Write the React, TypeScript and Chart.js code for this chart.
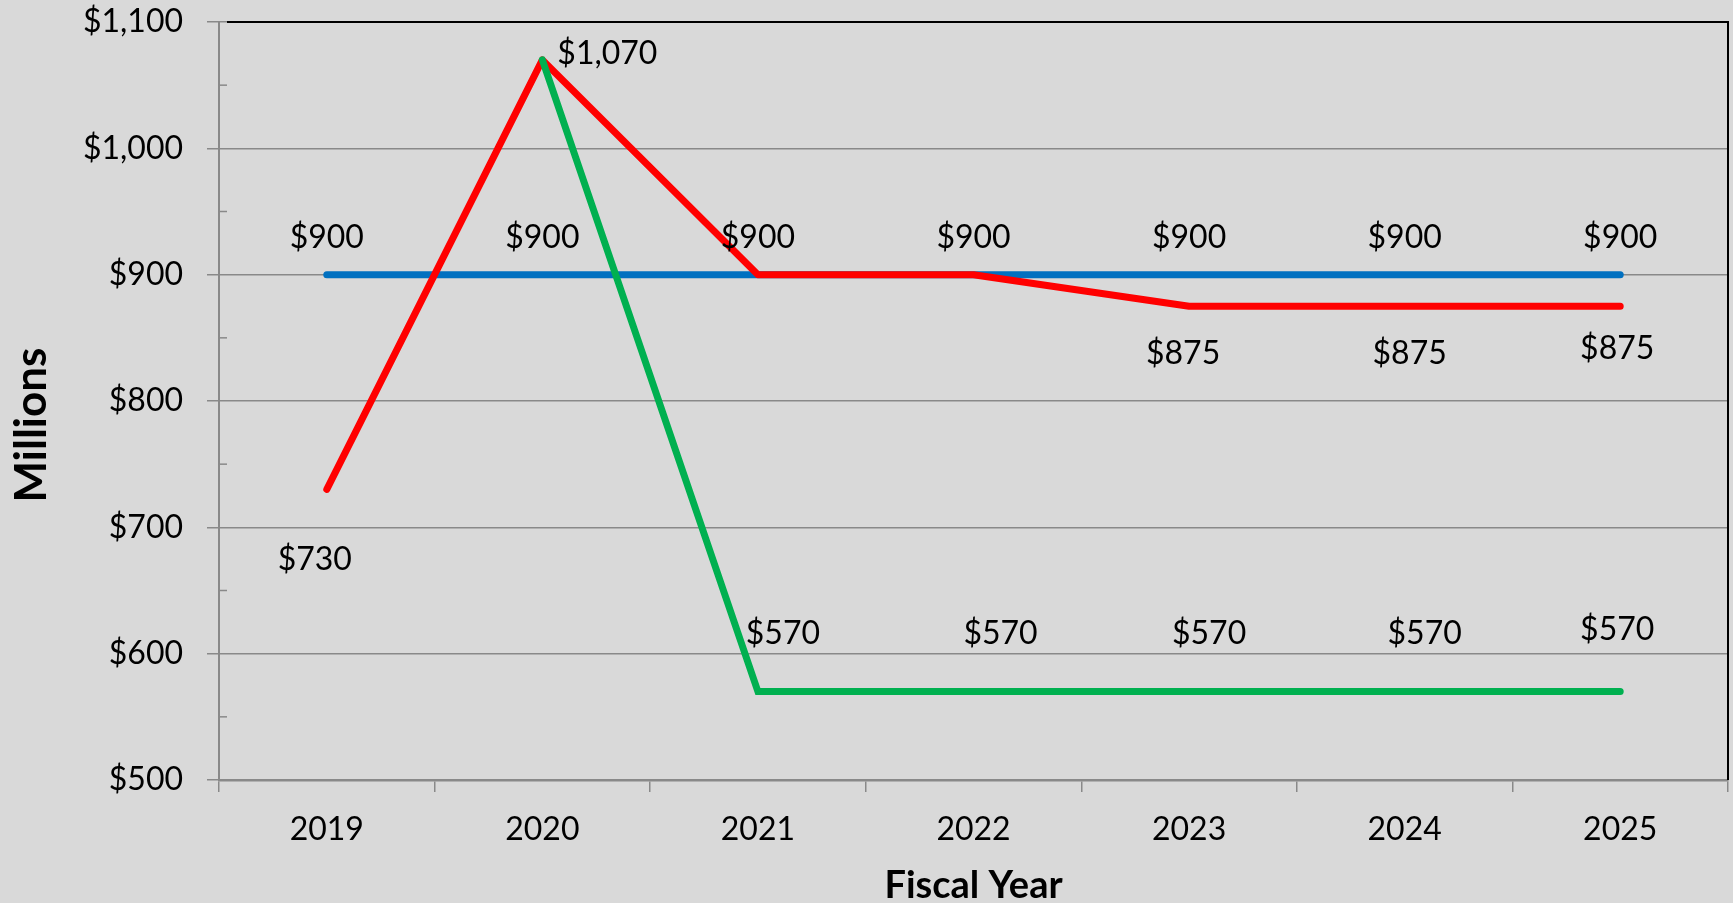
import React, { useEffect, useRef } from 'react';
import { Chart, registerables } from 'chart.js';

Chart.register(...registerables);

const categories = ['2019', '2020', '2021', '2022', '2023', '2024', '2025'];
const blueValues = [900, 900, 900, 900, 900, 900, 900];
const redValues = [730, 1070, 900, 900, 875, 875, 875];
const greenValues: (number | null)[] = [null, 1070, 570, 570, 570, 570, 570];
const yTickValues = [500, 600, 700, 800, 900, 1000, 1100];
const yMinorTickValues = [550, 650, 750, 850, 950, 1050];

// label placement (dx, dy from the point to the label's centre); null = no label
const blueLabelOffsets: ([number, number] | null)[] = [[0, -39], [0, -39], [0, -39], [0, -39], [0, -39], [0, -39], [0, -39]];
const redLabelOffsets: ([number, number] | null)[] = [[-12, 69], [65, -8], null, null, [-6, 46], [5, 46], [-3, 41]];
const greenLabelOffsets: ([number, number] | null)[] = [null, null, [25, -60], [27, -60], [20, -60], [20, -60], [-3, -64]];

const FONT = 'Lato';
const GRID = '#898989';
const BG = '#d9d9d9';

const fmt = (v: number) => '$' + v.toLocaleString('en-US');

export default function App() {
  const ref = useRef<HTMLCanvasElement | null>(null);

  useEffect(() => {
    let chart: Chart | null = null;
    let cancelled = false;

    const offsetsByDataset = [greenLabelOffsets, redLabelOffsets, blueLabelOffsets];

    const decor = {
      id: 'decor',
      beforeDraw(c: any) {
        const ctx = c.ctx;
        ctx.save();
        ctx.fillStyle = BG;
        ctx.fillRect(0, 0, c.width, c.height);
        ctx.restore();
      },
      afterDatasetsDraw(c: any) {
        const ctx = c.ctx;
        ctx.save();
        ctx.font = `32px ${FONT}`;
        ctx.fillStyle = '#000';
        ctx.textAlign = 'center';
        ctx.textBaseline = 'alphabetic';
        const h = ctx.measureText('0').actualBoundingBoxAscent;
        c.data.datasets.forEach((ds: any, di: number) => {
          const meta = c.getDatasetMeta(di);
          const offs = offsetsByDataset[di];
          meta.data.forEach((pt: any, i: number) => {
            const v = ds.data[i];
            const o = offs[i];
            if (v == null || !o) return;
            ctx.fillText(fmt(v), pt.x + o[0], pt.y + o[1] + h / 2);
          });
        });
        ctx.restore();
      },
      afterDraw(c: any) {
        const ctx = c.ctx;
        const a = c.chartArea;
        const y = c.scales.y;
        ctx.save();
        // minor ticks inside
        ctx.strokeStyle = GRID;
        ctx.lineWidth = 1.5;
        yMinorTickValues.forEach((v) => {
          const py = y.getPixelForValue(v);
          ctx.beginPath();
          ctx.moveTo(a.left, py);
          ctx.lineTo(a.left + 8, py);
          ctx.stroke();
        });
        // top and right frame
        ctx.strokeStyle = '#000';
        ctx.lineWidth = 2;
        ctx.beginPath();
        ctx.moveTo(a.left + 8, a.top);
        ctx.lineTo(a.right, a.top);
        ctx.lineTo(a.right, a.bottom);
        ctx.stroke();
        // axis titles
        ctx.fillStyle = '#000';
        ctx.textAlign = 'center';
        ctx.textBaseline = 'alphabetic';
        ctx.font = `bold 38px ${FONT}`;
        const ch = ctx.measureText('F').actualBoundingBoxAscent;
        ctx.fillText('Fiscal Year', (a.left + a.right) / 2, 884 + ch / 2);
        ctx.font = `bold 44px ${FONT}`;
        const mh = ctx.measureText('M').actualBoundingBoxAscent;
        ctx.translate(30, 425);
        ctx.rotate(-Math.PI / 2);
        ctx.fillText('Millions', 0, mh / 2);
        ctx.restore();
      },
    };

    Promise.all([
      document.fonts.load(`32px ${FONT}`),
      document.fonts.load(`bold 38px ${FONT}`),
    ]).catch(() => null).then(() => {
      if (cancelled || !ref.current) return;
      chart = new Chart(ref.current, {
        type: 'line',
        data: {
          labels: categories,
          datasets: [
            {
              label: 'Green',
              data: greenValues,
              borderColor: '#00B050',
              borderWidth: 7,
              borderCapStyle: 'round',
              borderJoinStyle: 'miter',
              pointRadius: 0,
              tension: 0,
              fill: false,
            },
            {
              label: 'Red',
              data: redValues,
              borderColor: '#FF0000',
              borderWidth: 7,
              borderCapStyle: 'round',
              borderJoinStyle: 'round',
              pointRadius: 0,
              tension: 0,
              fill: false,
            },
            {
              label: 'Blue',
              data: blueValues,
              borderColor: '#0070C0',
              borderWidth: 7,
              borderCapStyle: 'round',
              borderJoinStyle: 'round',
              pointRadius: 0,
              tension: 0,
              fill: false,
            },
          ],
        },
        options: {
          animation: false,
          responsive: true,
          maintainAspectRatio: false,
          devicePixelRatio: 1,
          layout: { padding: { top: 22, right: 5, left: 0, bottom: 0 } },
          plugins: {
            legend: { display: false },
            tooltip: { enabled: false },
            title: { display: false },
          },
          elements: { line: { clip: false } as any },
          scales: {
            x: {
              type: 'category',
              offset: true,
              grid: {
                offset: true,
                drawOnChartArea: false,
                drawTicks: true,
                tickLength: 12,
                color: GRID,
                lineWidth: 1.5,
              },
              border: { display: true, color: GRID, width: 2.5 },
              ticks: {
                color: '#000',
                font: { family: FONT, size: 32 },
                padding: 18,
                maxRotation: 0,
                autoSkip: false,
              },
              afterFit: (s: any) => {
                s.height = 123;
                s.paddingLeft = 0;
                s.paddingRight = 0;
              },
            },
            y: {
              type: 'linear',
              min: 500,
              max: 1100,
              afterBuildTicks: (s: any) => {
                s.ticks = yTickValues.map((v) => ({ value: v }));
              },
              grid: {
                drawOnChartArea: true,
                drawTicks: true,
                tickLength: 12,
                color: GRID,
                lineWidth: 1.5,
              },
              border: { display: true, color: GRID, width: 2 },
              ticks: {
                color: '#000',
                font: { family: FONT, size: 32 },
                padding: 24,
                callback: (v: any) => fmt(Number(v)),
              },
              afterFit: (s: any) => {
                s.width = 219;
                s.paddingTop = 0;
                s.paddingBottom = 0;
              },
            },
          },
        },
        plugins: [decor],
      } as any);
    });

    return () => {
      cancelled = true;
      if (chart) chart.destroy();
    };
  }, []);

  return (
    <div style={{ position: 'absolute', left: 0, top: 0, width: 1733, height: 903, background: BG }}>
      <canvas ref={ref} />
    </div>
  );
}
